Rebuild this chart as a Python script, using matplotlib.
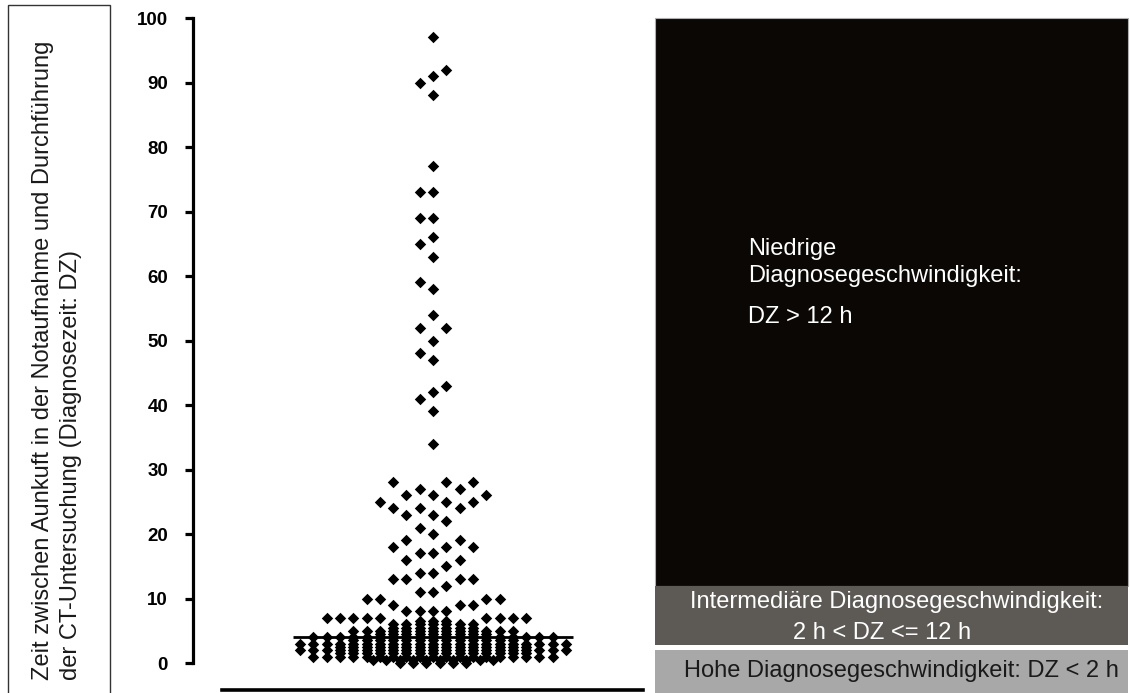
import numpy as np
import matplotlib
matplotlib.use("Agg")
import matplotlib.pyplot as plt
from matplotlib.patches import Rectangle

plt.rcParams['font.family'] = ['Liberation Sans', 'DejaVu Sans']

# ---------------- data (hours from arrival to CT) ----------------
dense_hours = [0, 0.5, 1, 1.5, 2, 2.5, 3, 3.5, 4, 4.5, 5, 5.5, 6, 6.5]
dense_counts = [6, 10, 19, 15, 21, 15, 21, 13, 19, 9, 13, 7, 7, 3]
mid_hours = [7, 8, 9, 10, 11, 12, 13, 14, 15, 16, 17, 18, 19, 20, 21, 22, 23, 24, 25, 26, 27, 28]
mid_counts = [9, 4, 3, 4, 2, 1, 4, 2, 1, 2, 2, 3, 2, 1, 1, 1, 2, 3, 3, 3, 2, 3]
high_hours = [34, 39, 41, 42, 43, 47, 48, 50, 52, 52, 54, 58, 59, 63, 65, 66,
              69, 69, 73, 73, 77, 88, 90, 91, 92, 97]

y_ticks = [0, 10, 20, 30, 40, 50, 60, 70, 80, 90, 100]
zone_edges = [100, 12, 2]          # DZ thresholds in hours
zone_colors = ['#0a0705', '#5d5a56', '#a8a8a8']

ylabel_lines = ["Zeit zwischen Aunkuft in der Notaufnahme und Durchführung",
                "der CT-Untersuchung (Diagnosezeit: DZ)"]
txt_low = ["Niedrige", "Diagnosegeschwindigkeit:", "DZ > 12 h"]
txt_mid = ["Intermediäre Diagnosegeschwindigkeit:", "2 h < DZ <= 12 h"]
txt_high = "Hohe Diagnosegeschwindigkeit: DZ < 2 h"

# ---------------- assemble values ----------------
rows = {}
for h, c in zip(dense_hours, dense_counts):
    rows[h] = rows.get(h, 0) + c
for h, c in zip(mid_hours, mid_counts):
    rows[h] = rows.get(h, 0) + c
for h in high_hours:
    rows[h] = rows.get(h, 0) + 1
all_values = np.concatenate([np.full(c, h, dtype=float) for h, c in sorted(rows.items())])
median_value = float(np.median(all_values))

# ---------------- simple column-scatter (swarm) layout ----------------
DENSE_CUT = 7


def candidate_slots():
    yield 0
    k = 1
    while True:
        yield -k
        yield k
        k += 1


placed = []
for v in sorted(rows):
    n = rows[v]
    if v < DENSE_CUT:
        slots = list(np.arange(n) - (n - 1) / 2)
    else:
        blocked = []
        for pv, ps in placed:
            dv = abs(v - pv)
            lim = 1.05 if pv < DENSE_CUT else 2.05
            if 0 < dv <= lim:
                blocked.append(ps)
        slots = []
        for c in candidate_slots():
            if all(abs(c - b) >= 0.75 for b in blocked):
                slots.append(c)
            if len(slots) == n:
                break
    placed.extend((v, s) for s in slots)

px = np.array([s for v, s in placed])
py = np.array([v for v, s in placed])

# ---------------- figure ----------------
W, H = 1130, 693
fig = plt.figure(figsize=(W / 100, H / 100), dpi=100)
fig.patch.set_facecolor('white')

y_bottom = -4.65
slot_px = 13.3
center_px = 433
ax_left_px, ax_right_px, ax_top_px = 193, 643, 18

ax = fig.add_axes([ax_left_px / W, 0, (ax_right_px - ax_left_px) / W, (H - ax_top_px) / H])
ax.set_ylim(y_bottom, 100)
ax.set_xlim((ax_left_px - center_px) / slot_px, (ax_right_px - center_px) / slot_px)
ax.patch.set_alpha(0)

ax.scatter(px, py, marker='D', s=34, color='black', linewidths=0, zorder=3, clip_on=False)
ax.plot([-10.5, 10.5], [median_value, median_value], color='black', lw=2.0, zorder=4,
        solid_capstyle='butt')

for side in ['top', 'right']:
    ax.spines[side].set_visible(False)
ax.spines['left'].set_bounds(0, 100)
ax.spines['left'].set_linewidth(2.3)
ax.spines['bottom'].set_position(('data', -4.2))
ax.spines['bottom'].set_bounds((222 - center_px) / slot_px, (643 - center_px) / slot_px)
ax.spines['bottom'].set_linewidth(2.6)
ax.set_xticks([])
ax.set_yticks(y_ticks)
ax.set_yticklabels([str(t) for t in y_ticks], fontsize=13.5, fontweight='bold')
ax.tick_params(axis='y', length=6, width=2.3, pad=12)

# ---------------- zone panel ----------------
ax2 = fig.add_axes([655 / W, 0, (1128 - 655) / W, (H - ax_top_px) / H])
ax2.set_ylim(y_bottom, 100)
ax2.set_xlim(0, 1)
ax2.axis('off')
gap = 0.75
ax2.add_patch(Rectangle((0, zone_edges[1]), 1, zone_edges[0] - zone_edges[1],
                        facecolor=zone_colors[0], edgecolor='#b0b0b0', lw=0.8, clip_on=False))
ax2.add_patch(Rectangle((0, zone_edges[2] + gap), 1, zone_edges[1] - zone_edges[2] - gap,
                        facecolor=zone_colors[1], edgecolor='none', clip_on=False))
ax2.add_patch(Rectangle((0, y_bottom - 2), 1, zone_edges[2] - y_bottom + 2,
                        facecolor=zone_colors[2], edgecolor='none', clip_on=False))


def fx(p):
    return p / W


def fy(p):
    return 1 - p / H


fs = 17
fig.text(fx(748), fy(255), txt_low[0], color='white', fontsize=fs, va='baseline', ha='left')
fig.text(fx(748), fy(282), txt_low[1], color='white', fontsize=fs, va='baseline', ha='left')
fig.text(fx(748), fy(323), txt_low[2], color='white', fontsize=fs, va='baseline', ha='left')
fig.text(fx(897), fy(608), txt_mid[0], color='white', fontsize=fs, va='baseline', ha='center')
fig.text(fx(882), fy(639), txt_mid[1], color='white', fontsize=fs, va='baseline', ha='center')
fig.text(fx(901), fy(677), txt_high, color='#1a1a1a', fontsize=fs, va='baseline', ha='center')

# ---------------- y label in box ----------------
fig.patches.append(Rectangle((fx(8), -0.05), fx(110) - fx(8), fy(5) + 0.05,
                             transform=fig.transFigure, facecolor='none',
                             edgecolor='#333333', lw=1.0, clip_on=False))
fig.text(fx(43), fy(680), ylabel_lines[0], rotation=90, fontsize=fs, ha='center', va='bottom',
         color='#1a1a1a')
fig.text(fx(71), fy(680), ylabel_lines[1], rotation=90, fontsize=fs, ha='center', va='bottom',
         color='#1a1a1a')

fig.savefig('out.png', dpi=100)
